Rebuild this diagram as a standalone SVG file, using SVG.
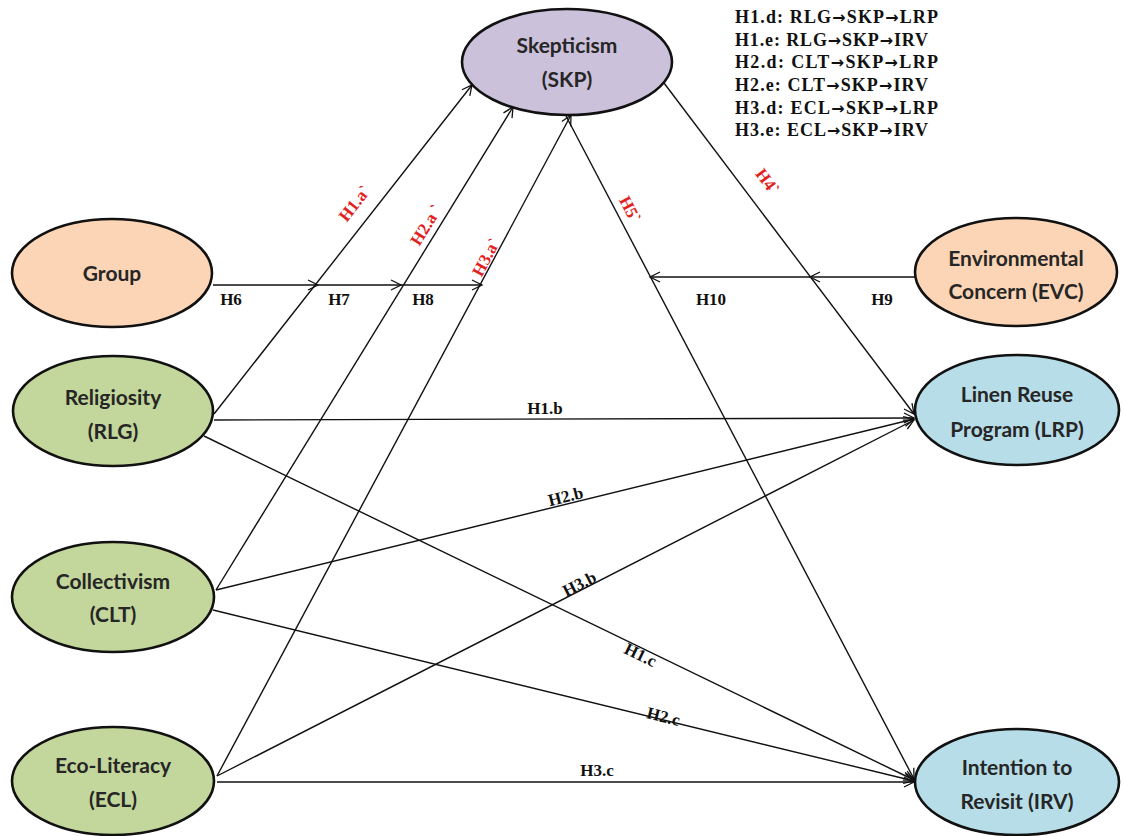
<svg xmlns="http://www.w3.org/2000/svg" width="1124" height="836" viewBox="0 0 1124 836">
  <defs>
    <marker id="arr" markerUnits="userSpaceOnUse" markerWidth="14" markerHeight="14" refX="11" refY="6" orient="auto">
      <path d="M1,1 L11,6 L1,11" fill="none" stroke="#111" stroke-width="1.3"/>
    </marker>
    <style>
      .node { stroke: #111; stroke-width: 2.6; }
      .skp { fill: #ccc1da; }
      .peach { fill: #fbd5b5; }
      .green { fill: #c3d69b; }
      .blue { fill: #b7dde8; }
      .nt { font-family: Lato, "Open Sans", sans-serif; font-weight: 700; font-size: 21px; fill: #262626; text-anchor: middle; }
      .edge { stroke: #111; stroke-width: 1.4; fill: none; }
      .lbl { font-family: "Liberation Serif", "Times New Roman", serif; font-weight: 700; font-size: 17px; fill: #111; text-anchor: middle; }
      .red { fill: #e32020; }
      .note { font-family: "Liberation Serif", "Times New Roman", serif; font-weight: 700; font-size: 18px; fill: #111; }
      .ar { font-family: "DejaVu Sans", sans-serif; font-weight: 700; font-size: 16px; }
    </style>
  </defs>
  <rect width="1124" height="836" fill="#ffffff"/>

  <!-- connectors -->
  <g id="connectors">
    <!-- moderating path from Group -->
    <line class="edge" x1="213" y1="285" x2="318" y2="285" marker-end="url(#arr)"/>
    <line class="edge" x1="318" y1="285" x2="401" y2="285" marker-end="url(#arr)"/>
    <line class="edge" x1="401" y1="285" x2="482" y2="285" marker-end="url(#arr)"/>
    <!-- predictors to SKP -->
    <line class="edge" x1="214" y1="414" x2="472" y2="85" marker-end="url(#arr)"/>
    <line class="edge" x1="216" y1="590" x2="513" y2="107" marker-end="url(#arr)"/>
    <line class="edge" x1="217" y1="776" x2="571" y2="115" marker-end="url(#arr)"/>
    <!-- SKP to outcomes -->
    <line class="edge" x1="664" y1="83" x2="914" y2="414" marker-end="url(#arr)"/>
    <line class="edge" x1="566" y1="116" x2="914" y2="779" marker-end="url(#arr)"/>
    <!-- moderating path from EVC -->
    <line class="edge" x1="915" y1="277" x2="810" y2="277" marker-end="url(#arr)"/>
    <line class="edge" x1="810" y1="277" x2="650" y2="277" marker-end="url(#arr)"/>
    <!-- predictors to LRP -->
    <line class="edge" x1="214" y1="420" x2="914" y2="418" marker-end="url(#arr)"/>
    <line class="edge" x1="216" y1="590" x2="914" y2="419" marker-end="url(#arr)"/>
    <line class="edge" x1="217" y1="776" x2="914" y2="420" marker-end="url(#arr)"/>
    <!-- predictors to IRV -->
    <line class="edge" x1="204" y1="436" x2="914" y2="780" marker-end="url(#arr)"/>
    <line class="edge" x1="213" y1="610" x2="914" y2="781" marker-end="url(#arr)"/>
    <line class="edge" x1="217" y1="782" x2="914" y2="782" marker-end="url(#arr)"/>
  </g>

  <!-- path labels -->
  <g id="labels">
    <text class="lbl" x="231" y="305">H6</text>
    <text class="lbl" x="339" y="305">H7</text>
    <text class="lbl" x="423" y="305">H8</text>
    <text class="lbl" x="711" y="305">H10</text>
    <text class="lbl" x="882" y="305">H9</text>
    <text class="lbl" x="545" y="414">H1.b</text>
    <text class="lbl" x="597" y="776">H3.c</text>
    <text class="lbl" transform="translate(567,502) rotate(-13.7)">H2.b</text>
    <text class="lbl" transform="translate(582,589) rotate(-27)">H3.b</text>
    <text class="lbl" transform="translate(638,660) rotate(25.8)">H1.c</text>
    <text class="lbl" transform="translate(662,722) rotate(13.7)">H2.c</text>
    <text class="lbl red" transform="translate(359,207) rotate(-52)">H1.a`</text>
    <text class="lbl red" transform="translate(431,228) rotate(-58)">H2.a `</text>
    <text class="lbl red" transform="translate(491,260) rotate(-61.5)">H3.a`</text>
    <text class="lbl red" transform="translate(625,212) rotate(62.3)">H5`</text>
    <text class="lbl red" transform="translate(763,185) rotate(53)">H4`</text>
  </g>

  <!-- indirect-effect list -->
  <g id="notes">
    <text class="note" x="735" y="23" textLength="203" lengthAdjust="spacing">H1.d: RLG<tspan class="ar">→</tspan>SKP<tspan class="ar">→</tspan>LRP</text>
    <text class="note" x="735" y="46" textLength="193" lengthAdjust="spacing">H1.e: RLG<tspan class="ar">→</tspan>SKP<tspan class="ar">→</tspan>IRV</text>
    <text class="note" x="735" y="68" textLength="203" lengthAdjust="spacing">H2.d: CLT<tspan class="ar">→</tspan>SKP<tspan class="ar">→</tspan>LRP</text>
    <text class="note" x="735" y="91" textLength="193" lengthAdjust="spacing">H2.e: CLT<tspan class="ar">→</tspan>SKP<tspan class="ar">→</tspan>IRV</text>
    <text class="note" x="735" y="114" textLength="203" lengthAdjust="spacing">H3.d: ECL<tspan class="ar">→</tspan>SKP<tspan class="ar">→</tspan>LRP</text>
    <text class="note" x="735" y="136" textLength="193" lengthAdjust="spacing">H3.e: ECL<tspan class="ar">→</tspan>SKP<tspan class="ar">→</tspan>IRV</text>
  </g>

  <!-- nodes -->
  <g id="node-skp">
    <ellipse class="node skp" cx="567" cy="62" rx="105" ry="53"/>
    <text class="nt" x="567" y="53">Skepticism</text>
    <text class="nt" x="567" y="87">(SKP)</text>
  </g>
  <g id="node-group">
    <ellipse class="node peach" cx="112" cy="273" rx="100" ry="54"/>
    <text class="nt" x="112" y="281">Group</text>
  </g>
  <g id="node-rlg">
    <ellipse class="node green" cx="113" cy="411" rx="100" ry="55"/>
    <text class="nt" x="113" y="405">Religiosity</text>
    <text class="nt" x="113" y="439">(RLG)</text>
  </g>
  <g id="node-clt">
    <ellipse class="node green" cx="113" cy="597" rx="101" ry="55"/>
    <text class="nt" x="113" y="589">Collectivism</text>
    <text class="nt" x="113" y="622">(CLT)</text>
  </g>
  <g id="node-ecl">
    <ellipse class="node green" cx="113" cy="781" rx="101" ry="54"/>
    <text class="nt" x="113" y="773">Eco-Literacy</text>
    <text class="nt" x="113" y="807">(ECL)</text>
  </g>
  <g id="node-evc">
    <ellipse class="node peach" cx="1016" cy="272" rx="101" ry="54"/>
    <text class="nt" x="1016" y="266">Environmental</text>
    <text class="nt" x="1016" y="299">Concern (EVC)</text>
  </g>
  <g id="node-lrp">
    <ellipse class="node blue" cx="1017" cy="410" rx="102" ry="55"/>
    <text class="nt" x="1017" y="402">Linen Reuse</text>
    <text class="nt" x="1017" y="437">Program (LRP)</text>
  </g>
  <g id="node-irv">
    <ellipse class="node blue" cx="1017" cy="782" rx="102" ry="53"/>
    <text class="nt" x="1017" y="775">Intention to</text>
    <text class="nt" x="1017" y="809">Revisit (IRV)</text>
  </g>
</svg>
